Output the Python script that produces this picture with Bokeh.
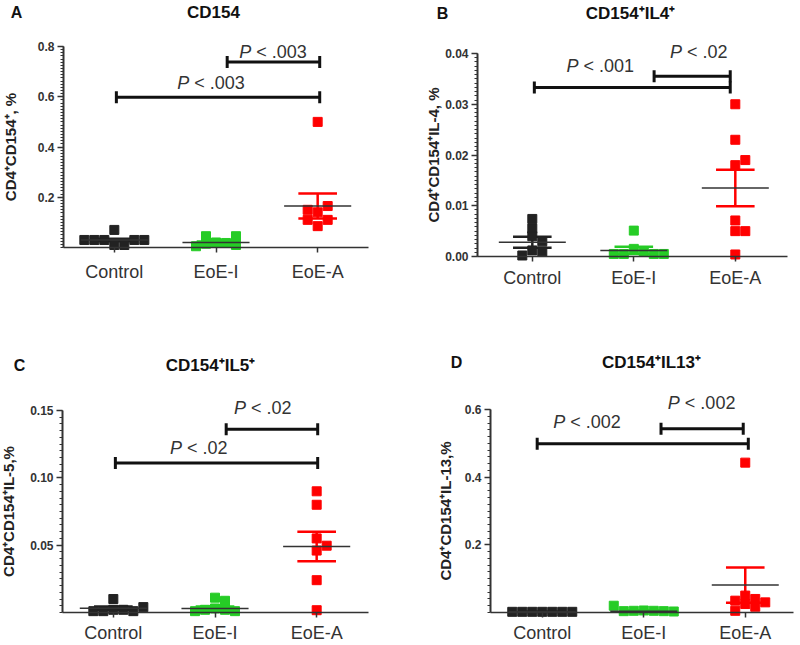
import numpy as np
from bokeh.plotting import figure
from bokeh.layouts import column, row
from bokeh.models import Range1d, FixedTicker, Label
from bokeh.embed import file_html
from bokeh.resources import INLINE

# ---------------- data ----------------
CATEGORIES = ["Control", "EoE-I", "EoE-A"]
GROUP_COLORS = ["#222222", "#26cc26", "#ff0000"]

A_TITLE = "CD154"
A_YLABEL = "CD4⁺CD154⁺, %"
A_CONTROL = [0.01, 0.01, 0.03, 0.03, 0.03, 0.03, 0.03, 0.07]
A_EOE_I = [0.02, 0.018, 0.015, 0.01, 0.005, 0.045, 0.045]
A_EOE_A = [0.5, 0.14, 0.165, 0.15, 0.085, 0.11, 0.11]
A_MEAN = [0.03, 0.02, 0.165]
A_SEM = [0.005, 0.004, 0.05]
A_TICKS = [0.2, 0.4, 0.6, 0.8]
A_TICK_LABELS = ["0.2", "0.4", "0.6", "0.8"]
A_SIG_FROM = [2.11, 1.02]
A_SIG_TO = [3.02, 3.02]
A_SIG_Y = [0.738, 0.598]
A_SIG_TEXT = ["< .003", "< .003"]

B_TITLE = "CD154⁺IL4⁺"
B_YLABEL = "CD4⁺CD154⁺IL-4, %"
B_CONTROL = [0.0074, 0.0055, 0.004, 0.003, 0.0012, 0.001, 0.0002]
B_EOE_I = [0.0051, 0.0015, 0.001, 0.0005, 0.0005, 0.0005, 0.0005]
B_EOE_A = [0.030, 0.023, 0.018, 0.019, 0.0071, 0.005, 0.005, 0.0004]
B_MEAN = [0.0028, 0.0012, 0.0135]
B_SEM = [0.0011, 0.0007, 0.0036]
B_TICKS = [0.0, 0.01, 0.02, 0.03, 0.04]
B_TICK_LABELS = ["0.00", "0.01", "0.02", "0.03", "0.04"]
B_SIG_FROM = [1.02, 2.2]
B_SIG_TO = [2.95, 2.95]
B_SIG_Y = [0.0333, 0.0355]
B_SIG_TEXT = ["< .001", "< .02"]

C_TITLE = "CD154⁺IL5⁺"
C_YLABEL = "CD4⁺CD154⁺IL-5,%"
C_CONTROL = [0.002, 0.002, 0.001, 0.001, 0.001, 0.004, 0.01]
C_EOE_I = [0.003, 0.002, 0.002, 0.001, 0.001, 0.011, 0.0087]
C_EOE_A = [0.09, 0.08, 0.046, 0.0496, 0.055, 0.024, 0.0017]
C_MEAN = [0.0032, 0.003, 0.049]
C_SEM = [0.0012, 0.0015, 0.011]
C_TICKS = [0.05, 0.10, 0.15]
C_TICK_LABELS = ["0.05", "0.10", "0.15"]
C_SIG_FROM = [2.11, 1.02]
C_SIG_TO = [3.01, 3.01]
C_SIG_Y = [0.136, 0.111]
C_SIG_TEXT = ["< .02", "< .02"]

D_TITLE = "CD154⁺IL13⁺"
D_YLABEL = "CD4⁺CD154⁺IL-13,%"
D_CONTROL = [0.002, 0.002, 0.002, 0.002, 0.002, 0.002, 0.002]
D_EOE_I = [0.006, 0.005, 0.005, 0.004, 0.004, 0.003, 0.02]
D_EOE_A = [0.443, 0.05, 0.04, 0.035, 0.03, 0.025, 0.017, 0.005]
D_MEAN = [0.002, 0.004, 0.081]
D_SEM = [0.0003, 0.002, 0.052]
D_TICKS = [0.2, 0.4, 0.6]
D_TICK_LABELS = ["0.2", "0.4", "0.6"]
D_SIG_FROM = [2.17, 0.95]
D_SIG_TO = [2.98, 3.03]
D_SIG_Y = [0.543, 0.499]
D_SIG_TEXT = ["< .002", "< .002"]

# ---------------- layout (screen geometry, not data) ----------------
FONT = "Liberation Sans"
# fig: (left, top, width, height) on the page; ax: y-axis pixel x inside figure,
# axv: data x of the y-axis, axe: data x where the x-axis line ends,
# y0: pixel y of value 0 inside figure, unit: pixels per y unit
LAYOUT = {
    "A": dict(fig=(0, 0, 400, 320), ax=63, axv=0.5, axe=3.5, pxcat=101.67, y0=247,
              unit=251.25, minor=0.0125, ystand=16, xstand=9,
              letter=(16, 12), title=(213, 12), plab=[(2.56, 0.778), (1.95, 0.655)]),
    "B": dict(fig=(400, 0, 400, 320), ax=77, axv=0.46, axe=3.51, pxcat=101.5, y0=256,
              unit=5075.0, minor=0.01 / 12, ystand=0, xstand=6,
              letter=(442, 13), title=(630, 13), plab=[(1.67, 0.0376), (2.64, 0.0402)]),
    "C": dict(fig=(0, 320, 400, 324), ax=62, axv=0.5, axe=3.51, pxcat=101.67, y0=292,
              unit=1346.7, minor=0.005, ystand=10, xstand=5,
              letter=(19, 365), title=(210, 365), plab=[(2.47, 0.152), (1.84, 0.122)]),
    "D": dict(fig=(400, 320, 400, 324), ax=90, axv=0.49, axe=3.48, pxcat=101.5, y0=292,
              unit=338.3, minor=0.02, ystand=8, xstand=5,
              letter=(456, 362), title=(651, 362), plab=[(2.57, 0.618), (1.44, 0.562)]),
}

CHAR_W = {"P": 0.667, " ": 0.278, "<": 0.584, ".": 0.278}


def text_width(s, fs):
    return sum(CHAR_W.get(c, 0.556) for c in s) * fs


def swarm(values, unit, pxcat, step=10.0, sx=9.0, sy=7.0):
    placed, offs = [], []
    cands = [0.0]
    for k in range(1, 15):
        cands += [k * step, -k * step]
    for v in values:
        y = v * unit
        for dx in cands:
            if all(abs(dx - px) >= sx or abs(y - py) >= sy for px, py in placed):
                break
        placed.append((dx, y))
        offs.append(dx / pxcat)
    return offs


def make_panel(key, letter, title, ylabel, groups, means, sems, ticks, tick_labels,
               sig_from, sig_to, sig_y, sig_text):
    L = LAYOUT[key]
    fx, fy, W, H = L["fig"]
    unit, pxcat = L["unit"], L["pxcat"]
    xs = L["axv"] - L["ax"] / pxcat
    xe = xs + W / pxcat
    ye = L["y0"] / unit
    ys = -(H - L["y0"]) / unit
    p = figure(width=W, height=H, x_range=Range1d(xs, xe), y_range=Range1d(ys, ye),
               output_backend="svg", toolbar_location=None, min_border=0)
    p.outline_line_color = None
    p.grid.visible = False

    # y axis, drawn at the data x of the axis
    ya = p.yaxis[0]
    ya.fixed_location = L["axv"]
    ya.bounds = (0, ticks[-1])
    minors = list(np.arange(0, ticks[-1] + L["minor"] / 2, L["minor"]))
    ya.ticker = FixedTicker(ticks=ticks, minor_ticks=minors)
    ya.major_label_overrides = {t: s for t, s in zip(ticks, tick_labels)}
    ya.axis_line_width = 2
    ya.axis_line_color = "#333333"
    ya.major_tick_out = 6
    ya.major_tick_in = 0
    ya.minor_tick_out = 3
    ya.minor_tick_in = 0
    ya.major_tick_line_width = 1.5
    ya.major_tick_line_color = "#333333"
    ya.minor_tick_line_color = "#333333"
    ya.major_label_text_font = FONT
    ya.major_label_text_font_size = "12px"
    ya.major_label_text_font_style = "bold"
    ya.major_label_text_color = "#333333"
    ya.major_label_standoff = 3
    ya.axis_label = ylabel
    ya.axis_label_text_font = FONT
    ya.axis_label_text_font_size = "15px"
    ya.axis_label_text_font_style = "bold"
    ya.axis_label_text_color = "#222222"
    ya.axis_label_standoff = L["ystand"]

    # x axis, drawn at y = 0
    xa = p.xaxis[0]
    xa.fixed_location = 0
    xa.bounds = (L["axv"], L["axe"])
    xa.ticker = FixedTicker(ticks=[1, 2, 3])
    xa.major_label_overrides = {i + 1: c for i, c in enumerate(CATEGORIES)}
    xa.axis_line_color = "#333333"
    xa.axis_line_width = 1.5
    xa.major_tick_in = 0
    xa.major_tick_out = 5
    xa.major_tick_line_width = 1.5
    xa.major_tick_line_color = "#333333"
    xa.minor_tick_line_color = None
    xa.major_label_text_font = FONT
    xa.major_label_text_font_size = "18px"
    xa.major_label_text_color = "#333333"
    xa.major_label_standoff = L["xstand"]

    cats = [1, 2, 3]
    means = np.array(means)
    sems = np.array(sems)
    # SEM whiskers
    p.segment(x0=cats, y0=means - sems, x1=cats, y1=means + sems,
              line_color=GROUP_COLORS, line_width=2.5)
    for sgn in (1, -1):
        p.segment(x0=[c - 0.19 for c in cats], y0=means + sgn * sems,
                  x1=[c + 0.19 for c in cats], y1=means + sgn * sems,
                  line_color=GROUP_COLORS, line_width=2.5)
    # points
    for c, vals, col in zip(cats, groups, GROUP_COLORS):
        offs = swarm(vals, unit, pxcat)
        p.scatter(x=[c + o for o in offs], y=vals, marker="square", size=9,
                  fill_color=col, line_color=col)
    # mean lines
    p.segment(x0=[c - 0.33 for c in cats], y0=means, x1=[c + 0.33 for c in cats], y1=means,
              line_color="#333333", line_width=1.5)

    # significance bars
    cap = 6.0 / unit
    p.segment(x0=sig_from, y0=sig_y, x1=sig_to, y1=sig_y, line_color="#111111", line_width=3)
    p.segment(x0=sig_from, y0=[y - cap for y in sig_y], x1=sig_from, y1=[y + cap for y in sig_y],
              line_color="#111111", line_width=3)
    p.segment(x0=sig_to, y0=[y - cap for y in sig_y], x1=sig_to, y1=[y + cap for y in sig_y],
              line_color="#111111", line_width=3)
    fs = 18
    for (lx, ly), txt in zip(L["plab"], sig_text):
        w = text_width("P " + txt, fs)
        p.add_layout(Label(x=lx, y=ly, x_offset=-w / 2, text="P", text_font=FONT,
                           text_font_size=f"{fs}px", text_font_style="italic",
                           text_color="#333333", text_align="left", text_baseline="middle"))
        p.add_layout(Label(x=lx, y=ly, x_offset=w / 2, text=txt, text_font=FONT,
                           text_font_size=f"{fs}px", text_color="#333333",
                           text_align="right", text_baseline="middle"))

    # panel letter and title
    def dx(ax):
        return xs + (ax - fx) / pxcat

    def dy(ay):
        return (L["y0"] - (ay - fy)) / unit

    lx, ly = L["letter"]
    p.add_layout(Label(x=dx(lx), y=dy(ly), text=letter, text_font=FONT, text_font_size="16px",
                       text_font_style="bold", text_color="#111111",
                       text_align="center", text_baseline="middle"))
    tx, ty = L["title"]
    p.add_layout(Label(x=dx(tx), y=dy(ty), text=title, text_font=FONT, text_font_size="17px",
                       text_font_style="bold", text_color="#111111",
                       text_align="center", text_baseline="middle"))
    return p


pA = make_panel("A", "A", A_TITLE, A_YLABEL, [A_CONTROL, A_EOE_I, A_EOE_A], A_MEAN, A_SEM,
                A_TICKS, A_TICK_LABELS, A_SIG_FROM, A_SIG_TO, A_SIG_Y, A_SIG_TEXT)
pB = make_panel("B", "B", B_TITLE, B_YLABEL, [B_CONTROL, B_EOE_I, B_EOE_A], B_MEAN, B_SEM,
                B_TICKS, B_TICK_LABELS, B_SIG_FROM, B_SIG_TO, B_SIG_Y, B_SIG_TEXT)
pC = make_panel("C", "C", C_TITLE, C_YLABEL, [C_CONTROL, C_EOE_I, C_EOE_A], C_MEAN, C_SEM,
                C_TICKS, C_TICK_LABELS, C_SIG_FROM, C_SIG_TO, C_SIG_Y, C_SIG_TEXT)
pD = make_panel("D", "D", D_TITLE, D_YLABEL, [D_CONTROL, D_EOE_I, D_EOE_A], D_MEAN, D_SEM,
                D_TICKS, D_TICK_LABELS, D_SIG_FROM, D_SIG_TO, D_SIG_Y, D_SIG_TEXT)

layout = column(row(pA, pB), row(pC, pD))
open("out.html", "w").write(file_html(layout, INLINE))
